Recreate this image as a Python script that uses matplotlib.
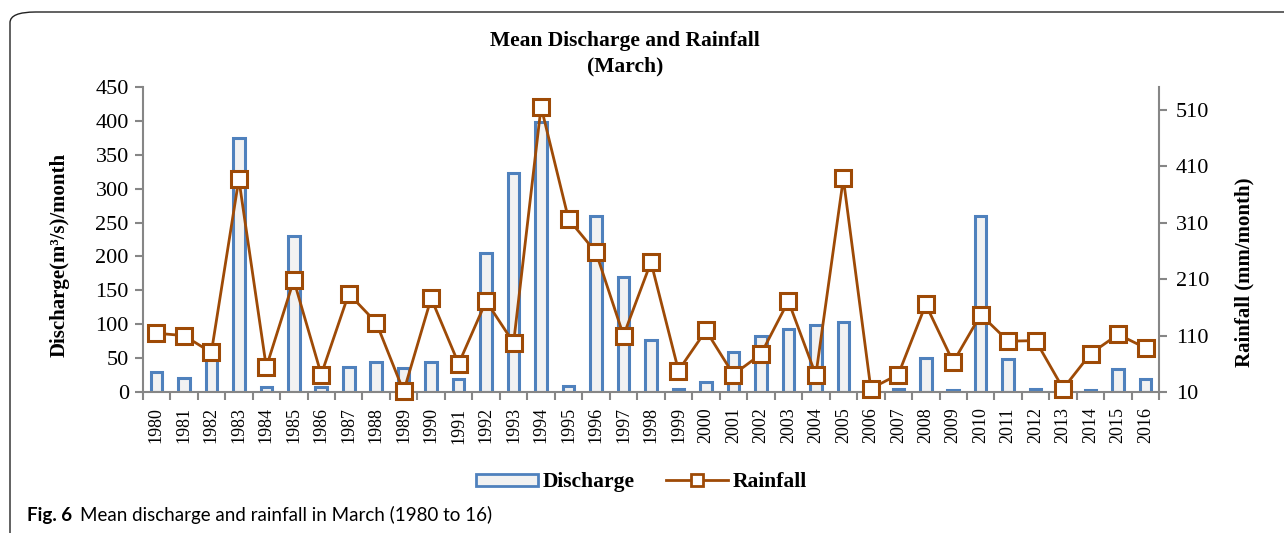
import matplotlib.pyplot as plt
from matplotlib.lines import Line2D
from matplotlib.patches import FancyBboxPatch, Patch

years = [str(y) for y in range(1980, 2017)]
discharge = [30, 21, 55, 375, 8, 230, 7, 37, 44, 35,
             45, 19, 205, 323, 398, 9, 260, 169, 77, 4,
             15, 59, 82, 93, 99, 104, 0, 4, 50, 3,
             259, 48, 4, 0, 3, 34, 19]
rainfall = [114, 110, 80, 387, 54, 208, 41, 184, 133, 11,
            176, 60, 171, 97, 515, 316, 257, 110, 240, 48,
            119, 41, 77, 171, 40, 388, 16, 41, 165, 63,
            147, 100, 101, 16, 78, 112, 88]

SERIF = 'Liberation Serif'
CAPTION = 'Lato'
BAR_EDGE = '#4F81BD'
BAR_FILL = '#F2F2F2'
LINE = '#9E4A06'
AXIS = '#868686'


def render():
    fig = plt.figure(figsize=(12.84, 5.33), dpi=100)

    # card outline with rounded top-left corner
    card = FancyBboxPatch((10 / 1284, -0.2), 1.2, 0.2 + (533 - 12) / 533,
                          boxstyle='round,pad=0,rounding_size=0.02',
                          transform=fig.transFigure, fill=False,
                          edgecolor='#222222', linewidth=1.0)
    fig.patches.append(card)

    ax1 = fig.add_axes([0.1111, 0.2645, 0.7918, 0.5723])
    x = list(range(len(years)))
    ax1.bar(x, discharge, width=0.42, color=BAR_FILL, edgecolor=BAR_EDGE,
            linewidth=2.2, zorder=2)
    ax1.set_xlim(-0.5, len(years) - 0.5)
    ax1.set_ylim(0, 450)
    ax1.set_yticks(range(0, 451, 50))
    ax1.set_xticks(x)
    ax1.set_xticklabels(years, rotation=90, fontfamily=SERIF, fontsize=13)
    ax1.tick_params(axis='x', length=0, pad=11)
    ax1.set_xticks([i - 0.5 for i in range(len(years) + 1)], minor=True)
    ax1.tick_params(axis='x', which='minor', length=6, width=1.5, color=AXIS)
    ax1.tick_params(axis='y', length=6, width=1.5, color=AXIS, labelsize=16, pad=4)
    for lab in ax1.get_yticklabels():
        lab.set_fontfamily(SERIF)
    ax1.set_ylabel('Discharge(m³/s)/month', fontfamily=SERIF,
                   fontweight='bold', fontsize=15, va='center', ha='center')
    ax1.yaxis.set_label_coords(-0.0813, 0.449)
    for side in ('top', 'right'):
        ax1.spines[side].set_visible(False)
    for side in ('left', 'bottom'):
        ax1.spines[side].set_color(AXIS)
        ax1.spines[side].set_linewidth(1.5)

    ax2 = ax1.twinx()
    ax2.plot(x, rainfall, color=LINE, linewidth=2, marker='s', markersize=11,
             markerfacecolor='white', markeredgecolor=LINE, markeredgewidth=2.2,
             zorder=3, clip_on=False)
    ax2.set_ylim(10, 550)
    ax2.set_yticks(range(10, 511, 100))
    ax2.tick_params(axis='y', length=6, width=1.5, color=AXIS, labelsize=16, pad=6)
    for lab in ax2.get_yticklabels():
        lab.set_fontfamily(SERIF)
    ax2.set_ylabel('Rainfall (mm/month)', fontfamily=SERIF, fontweight='bold',
                   fontsize=15, va='center', ha='center')
    ax2.yaxis.set_label_coords(1.0839, 0.393)
    for side in ('top', 'left', 'bottom'):
        ax2.spines[side].set_visible(False)
    ax2.spines['right'].set_color(AXIS)
    ax2.spines['right'].set_linewidth(1.5)

    fig.text(0.487, 0.923, 'Mean Discharge and Rainfall', ha='center', va='center',
             fontfamily=SERIF, fontweight='bold', fontsize=15.5)
    fig.text(0.487, 0.876, '(March)', ha='center', va='center',
             fontfamily=SERIF, fontweight='bold', fontsize=15.5)

    handles = [
        Patch(facecolor=BAR_FILL, edgecolor=BAR_EDGE, linewidth=2),
        Line2D([], [], color=LINE, linewidth=2, marker='s', markersize=9,
               markerfacecolor='white', markeredgecolor=LINE, markeredgewidth=2),
    ]
    fig.legend(handles, ['Discharge', 'Rainfall'], loc='center',
               bbox_to_anchor=(0.4995, 0.095), ncol=2, frameon=False,
               prop={'family': SERIF, 'weight': 'bold', 'size': 15.5},
               handlelength=2.9, handleheight=0.5, columnspacing=1.45,
               handletextpad=0.2)

    fig.text(27 / 1284, 0.0225, 'Fig. 6', fontfamily=CAPTION,
             fontweight='bold', fontsize=13.5, va='baseline')
    fig.text(80 / 1284, 0.0225, 'Mean discharge and rainfall in March (1980 to 16)',
             fontfamily=CAPTION, fontsize=13.5, va='baseline')

    fig.savefig('out.png', dpi=100)


def main():
    render()


if __name__ == '__main__':
    main()
